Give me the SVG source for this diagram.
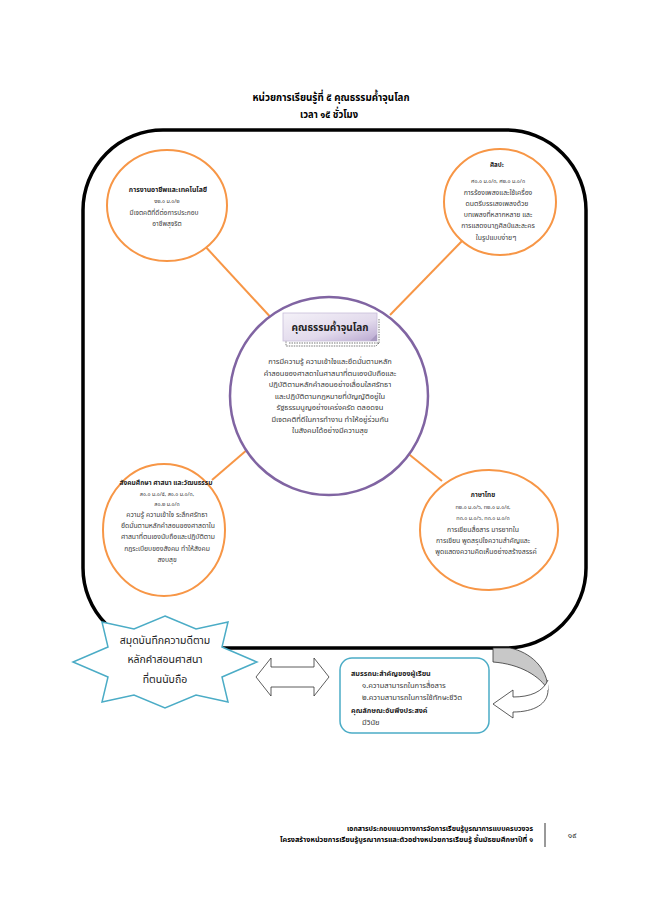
<svg xmlns="http://www.w3.org/2000/svg" width="658" height="899" viewBox="0 0 658 899">
<defs>
<style>
text{font-family:"Noto Sans Thai","Noto Sans","DejaVu Sans",sans-serif;fill:#3a3a3a;text-anchor:middle}
.t{font-size:11px;font-weight:bold;fill:#000}
.s{font-size:5.5px}
.orc{fill:#fff;stroke:#F79646;stroke-width:2}
.con{stroke:#F79646;stroke-width:2;fill:none}
.bx{font-size:7.6px;text-anchor:start}
.bxh{font-size:7.2px;font-weight:bold;text-anchor:start;fill:#222}
.ft{font-size:7.5px;font-weight:bold;text-anchor:end;fill:#000}
.st{font-size:10.5px;fill:#222}
</style>
<linearGradient id="lav" x1="0" y1="0" x2="1" y2="1">
<stop offset="0" stop-color="#F4F1F8"/>
<stop offset="0.6" stop-color="#E2DAEC"/>
<stop offset="1" stop-color="#B9A8D0"/>
</linearGradient>
</defs>
<rect width="658" height="899" fill="#fff"/>
<g id="title">
<text class="t" x="331" y="101" textLength="157" lengthAdjust="spacingAndGlyphs">หน่วยการเรียนรู้ที่ ๕  คุณธรรมค้ำจุนโลก</text>
<text class="t" x="329" y="118" textLength="58" lengthAdjust="spacingAndGlyphs">เวลา ๑๕ ชั่วโมง</text>
</g>
<g id="frame">
<rect x="83" y="130" width="503" height="518" rx="80" ry="80" fill="none" stroke="#000" stroke-width="3.5"/>
</g>
<g id="connectors">
<line class="con" x1="203" y1="244" x2="275" y2="322"/>
<line class="con" x1="462" y1="241" x2="390" y2="315"/>
<line class="con" x1="255" y1="443" x2="212" y2="480"/>
<line class="con" x1="400" y1="447" x2="442" y2="481"/>
</g>
<g id="node-career">
<ellipse class="orc" cx="167" cy="205.5" rx="60" ry="55.5"/>
<text x="168" y="192" style="font-size:6.9px;font-weight:bold;fill:#222">การงานอาชีพและเทคโนโลยี</text>
<text class="s" x="167" y="203">ง๒.๑ ม.๑/๒</text>
<text x="164" y="215" style="font-size:6.6px">มีเจตคติที่ดีต่อการประกอบ</text>
<text x="167" y="226" style="font-size:6.6px">อาชีพสุจริต</text>
</g>
<g id="node-arts">
<ellipse class="orc" cx="500" cy="202" rx="56" ry="53"/>
<text x="497" y="167" style="font-size:6.2px;font-weight:bold;fill:#222">ศิลปะ</text>
<text class="s" x="498" y="183">ศ๑.๑ ม.๑/๓, ศ๒.๑ ม.๑/๓</text>
<text x="498" y="195" style="font-size:6.9px">การร้องเพลงและใช้เครื่อง</text>
<text x="497" y="206" style="font-size:6.9px">ดนตรีบรรเลงเพลงด้วย</text>
<text x="498" y="217" style="font-size:6.9px">บทเพลงที่หลากหลาย และ</text>
<text x="498" y="228" style="font-size:6.9px">การแสดงนาฏศิลป์และละคร</text>
<text x="496" y="240" style="font-size:6.9px">ในรูปแบบง่ายๆ</text>
</g>
<g id="node-center">
<circle cx="329" cy="396" r="99" fill="#fff" stroke="#8064A2" stroke-width="2.5"/>
<path d="M289,343 L379,343 L379,318 M379,343 L376,346 L286,346 L286,341" fill="none" stroke="#555" stroke-width="0.8" stroke-dasharray="1.5,1"/>
<rect x="283" y="313" width="94" height="28" fill="url(#lav)" stroke="#C8BEDA" stroke-width="0.8"/>
<path d="M377,334 L370,341 L377,341 Z" fill="#A899C0"/>
<text x="330" y="331" style="font-size:10px;font-weight:bold;fill:#222">คุณธรรมค้ำจุนโลก</text>
<g style="font-size:7.5px">
<text x="330" y="364">การมีความรู้ ความเข้าใจและยึดมั่นตามหลัก</text>
<text x="330" y="375.5">คำสอนของศาสดาในศาสนาที่ตนเองนับถือและ</text>
<text x="330" y="387">ปฏิบัติตามหลักคำสอนอย่างเลื่อมใสศรัทธา</text>
<text x="330" y="398.5">และปฏิบัติตามกฎหมายที่บัญญัติอยู่ใน</text>
<text x="330" y="410">รัฐธรรมนูญอย่างเคร่งครัด ตลอดจน</text>
<text x="330" y="421.5">มีเจตคติที่ดีในการทำงาน ทำให้อยู่ร่วมกัน</text>
<text x="330" y="433">ในสังคมได้อย่างมีความสุข</text>
</g>
</g>
<g id="node-social">
<ellipse class="orc" cx="164" cy="530" rx="61" ry="66"/>
<text x="166" y="485" style="font-size:6.6px;font-weight:bold;fill:#222">สังคมศึกษา ศาสนา และวัฒนธรรม</text>
<text class="s" x="167" y="496">ส๑.๑ ม.๑/๕, ส๑.๑ ม.๑/๓,</text>
<text class="s" x="167" y="506">ส๑.๒ ม.๑/๓</text>
<g style="font-size:6.8px">
<text x="167" y="517">ความรู้ ความเข้าใจ ระลึกศรัทธา</text>
<text x="168" y="528">ยึดมั่นตามหลักคำสอนของศาสดาใน</text>
<text x="168" y="539">ศาสนาที่ตนเองนับถือและปฏิบัติตาม</text>
<text x="167" y="551">กฎระเบียบของสังคม ทำให้สังคม</text>
<text x="167" y="562">สงบสุข</text>
</g>
</g>
<g id="node-thai">
<ellipse class="orc" cx="489" cy="530" rx="69" ry="60"/>
<text x="483" y="497" style="font-size:6.4px;font-weight:bold;fill:#222">ภาษาไทย</text>
<text class="s" x="483" y="509">ท๒.๑ ม.๑/๖, ท๒.๑ ม.๑/๙,</text>
<text class="s" x="483" y="520">ท๓.๑ ม.๑/๖, ท๓.๑ ม.๑/๓</text>
<g style="font-size:6.9px">
<text x="483" y="532">การเขียนสื่อสาร มารยาทใน</text>
<text x="483" y="543">การเขียน พูดสรุปใจความสำคัญและ</text>
<text x="486" y="554">พูดแสดงความคิดเห็นอย่างสร้างสรรค์</text>
</g>
</g>
<g id="node-notebook">
<polygon points="165,616 196,629 228,622 222,647 257,662 222,677 228,702 196,695 165,708 134,695 102,702 108,677 73,662 108,647 102,622 134,629" fill="#fff" stroke="#4BACC6" stroke-width="1.5"/>
<text class="st" x="165" y="644">สมุดบันทึกความดีตาม</text>
<text class="st" x="165" y="663">หลักคำสอนศาสนา</text>
<text class="st" x="165" y="683">ที่ตนนับถือ</text>
</g>
<g id="double-arrow">
<polygon points="256,677 271,658 271,667 314,667 314,658 329,677 314,696 314,687 271,687 271,696" fill="#fff" stroke="#333" stroke-width="0.8"/>
</g>
<g id="node-competency">
<rect x="340" y="658" width="149" height="75" rx="12" ry="12" fill="#fff" stroke="#4BACC6" stroke-width="1.5"/>
<text class="bxh" x="351" y="676">สมรรถนะสำคัญของผู้เรียน</text>
<text class="bx" x="362" y="688">๑.ความสามารถในการสื่อสาร</text>
<text class="bx" x="362" y="700">๒.ความสามารถในการใช้ทักษะชีวิต</text>
<text class="bxh" x="351" y="713">คุณลักษณะอันพึงประสงค์</text>
<text class="bx" x="362" y="725">มีวินัย</text>
</g>
<g id="curved-arrow">
<path d="M493,648 L510,648 C530,652 548,668 548,690 C540,676 520,664 493,662 Z" fill="#C8C8C8" stroke="#333" stroke-width="0.8"/>
<path d="M548,690 C548,704 534,712 513,712 L513,718 L493,704 L513,690 L513,697 C530,697 543,692 548,680" fill="#fff" stroke="#333" stroke-width="0.8"/>
</g>
<g id="footer">
<text class="ft" x="533" y="831" textLength="186" lengthAdjust="spacingAndGlyphs">เอกสารประกอบแนวทางการจัดการเรียนรู้บูรณาการแบบครบวงจร</text>
<text class="ft" x="533" y="842" textLength="253" lengthAdjust="spacingAndGlyphs">โครงสร้างหน่วยการเรียนรู้บูรณาการและตัวอย่างหน่วยการเรียนรู้ ชั้นมัธยมศึกษาปีที่ ๑</text>
<line x1="545" y1="823" x2="545" y2="847" stroke="#000" stroke-width="0.8"/>
<text x="572" y="838" style="font-size:8px;fill:#333">๑๙</text>
</g>
</svg>
